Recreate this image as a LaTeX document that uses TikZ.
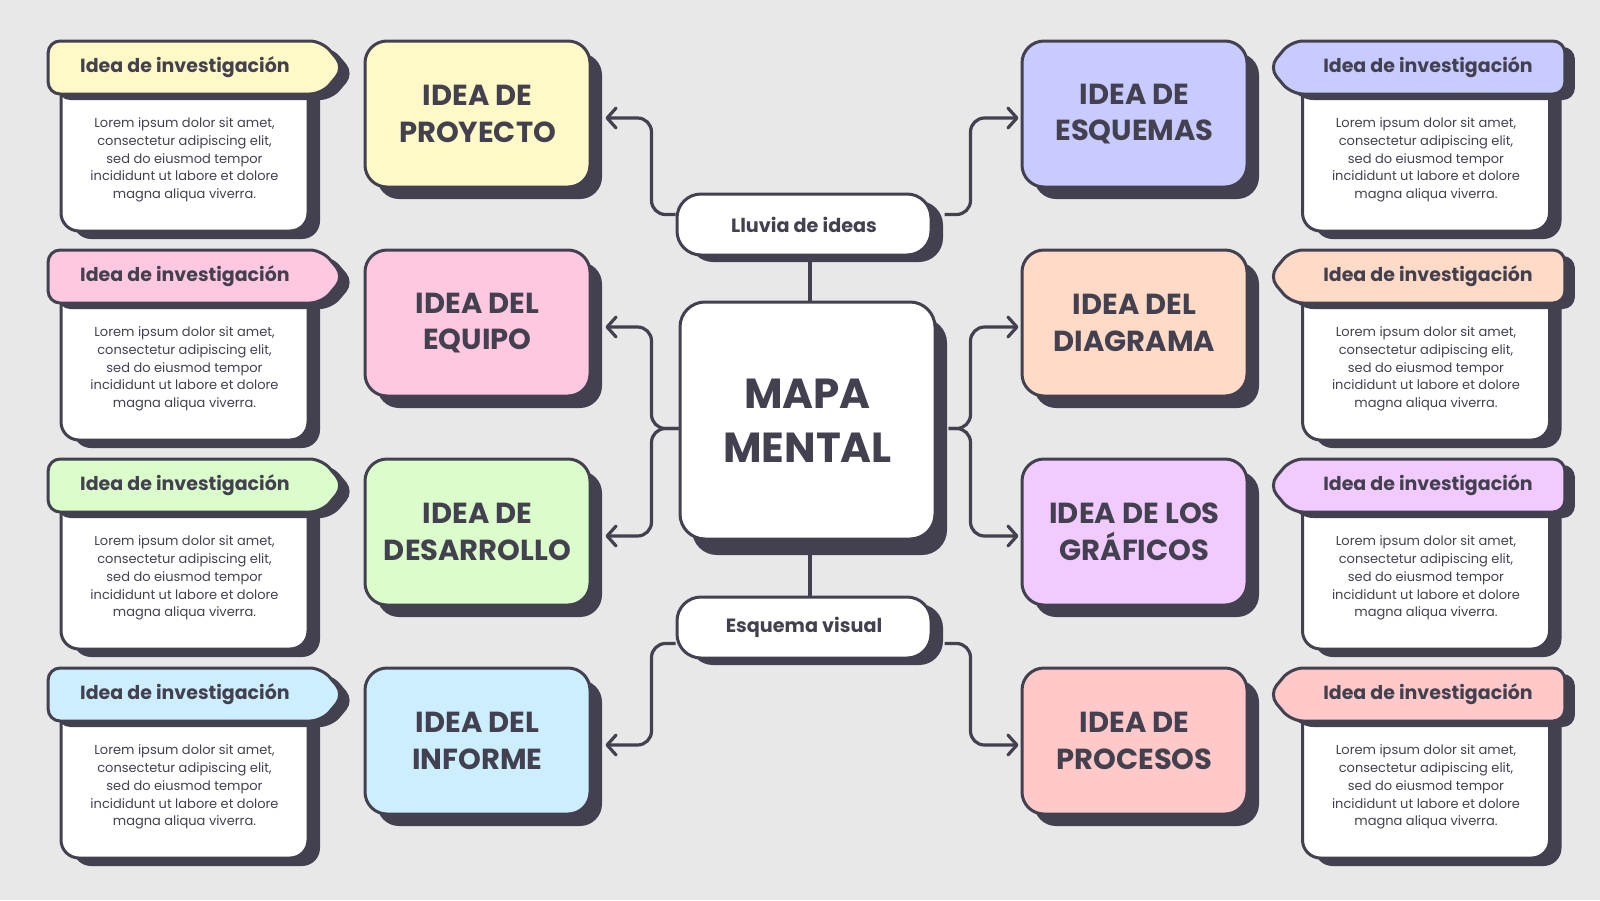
\documentclass[tikz,border=0pt]{standalone}
\usepackage{fontspec}
\setmainfont{Poppins}
\usetikzlibrary{arrows.meta,shapes.symbols,shadows}
\definecolor{ink}{HTML}{43414F}
\definecolor{paper}{HTML}{E8E8E8}
\definecolor{cyellow}{HTML}{FFF8C7}
\definecolor{cpink}{HTML}{FFC8E1}
\definecolor{cgreen}{HTML}{DAFDCB}
\definecolor{cblue}{HTML}{CCEEFF}
\definecolor{clavender}{HTML}{C7CBFF}
\definecolor{cpeach}{HTML}{FFDAC7}
\definecolor{cviolet}{HTML}{F1CAFF}
\definecolor{csalmon}{HTML}{FFC9C9}
\newcommand{\loremtext}{Lorem ipsum dolor sit amet,\\consectetur adipiscing elit,\\sed do eiusmod tempor\\incididunt ut labore et dolore\\magna aliqua viverra.}
\tikzset{
  idea/.style={
    draw=ink,
    line width=1.5pt,
    rounded corners=11pt,
    align=center,
    minimum width=112.5pt,
    minimum height=73pt,
    text=ink,
    font=\fontsize{14.5}{18.4}\selectfont\bfseries,
    drop shadow={shadow xshift=6pt, shadow yshift=-6pt, fill=ink, opacity=1}
  },
  hub/.style={
    draw=ink,
    fill=white,
    line width=1.5pt,
    rounded corners=12.5pt,
    align=center,
    minimum width=127.5pt,
    minimum height=118.5pt,
    text=ink,
    font=\fontsize{21}{27}\selectfont\bfseries,
    drop shadow={shadow xshift=6pt, shadow yshift=-8pt, fill=ink, opacity=1}
  },
  pill/.style={
    draw=ink,
    fill=white,
    line width=1.5pt,
    rounded corners=12pt,
    minimum width=127pt,
    minimum height=30.5pt,
    text=ink,
    font=\fontsize{9.6}{11}\selectfont\bfseries,
    drop shadow={shadow xshift=6pt, shadow yshift=-3.5pt, fill=ink, opacity=1}
  },
  tab/.style={
    draw=ink,
    line width=1.5pt,
    signal,
    signal pointer angle=100,
    rounded corners=6pt,
    inner sep=0pt,
    minimum width=148pt,
    minimum height=26.5pt,
    text=ink,
    font=\fontsize{9.5}{11}\selectfont\bfseries,
    drop shadow={shadow xshift=5pt, shadow yshift=-3pt, fill=ink, opacity=1}
  },
  body/.style={
    draw=ink,
    fill=white,
    line width=1.5pt,
    rounded corners=9pt,
    minimum width=123.5pt,
    minimum height=85.5pt,
    drop shadow={shadow xshift=6pt, shadow yshift=-4pt, fill=ink, opacity=1}
  },
  lorem/.style={
    align=center,
    inner sep=0pt,
    text=ink,
    font=\fontsize{6.5}{8.9}\selectfont
  },
  link/.style={-{Straight Barb[length=4.5pt,width=10pt,round]}, draw=ink, line width=1.6pt, rounded corners=7pt},
  wire/.style={draw=ink, line width=1.6pt}
}

\begin{document}
\begin{tikzpicture}[x=0.5pt, y=-0.5pt]

\fill[paper] (0,0) rectangle (1600,900);
\useasboundingbox (0,0) rectangle (1600,900);

% center
\node[hub] (mapa) at (807.5,420.5) {MAPA\\MENTAL};
\node[pill] (lluvia) at (804,224.5) {Lluvia de ideas};
\node[pill] (esquema) at (804,627.5) {Esquema visual};

% left ideas
\node[idea, fill=cyellow] (proyecto) at (477.5,114) {IDEA DE\\PROYECTO};
\node[idea, fill=cpink] (equipo) at (477.5,323) {IDEA DEL\\EQUIPO};
\node[idea, fill=cgreen] (desarrollo) at (477.5,532) {IDEA DE\\DESARROLLO};
\node[idea, fill=cblue] (informe) at (477.5,741) {IDEA DEL\\INFORME};

% right ideas
\node[idea, fill=clavender] (esquemas) at (1134.5,114) {IDEA DE\\ESQUEMAS};
\node[idea, fill=cpeach] (diagrama) at (1134.5,323) {IDEA DEL\\DIAGRAMA};
\node[idea, fill=cviolet] (graficos) at (1134.5,532) {IDEA DE LOS\\GRÁFICOS};
\node[idea, fill=csalmon] (procesos) at (1134.5,741) {IDEA DE\\PROCESOS};

% left notes
\node[body] (lb1) at (184.5,145.5) {};
\node[lorem] (lt1) at (184.5,160) {\loremtext};
\node[tab, signal to=east, fill=cyellow] (ltab1) at (185,67.5) {Idea de investigación};
\node[body] (lb2) at (184.5,354.5) {};
\node[lorem] (lt2) at (184.5,369) {\loremtext};
\node[tab, signal to=east, fill=cpink] (ltab2) at (185,276.5) {Idea de investigación};
\node[body] (lb3) at (184.5,563.5) {};
\node[lorem] (lt3) at (184.5,578) {\loremtext};
\node[tab, signal to=east, fill=cgreen] (ltab3) at (185,485.5) {Idea de investigación};
\node[body] (lb4) at (184.5,772.5) {};
\node[lorem] (lt4) at (184.5,787) {\loremtext};
\node[tab, signal to=east, fill=cblue] (ltab4) at (185,694.5) {Idea de investigación};

% right notes
\node[body] (rb1) at (1426,145.5) {};
\node[lorem] (rt1) at (1426,160) {\loremtext};
\node[tab, signal to=west, fill=clavender] (rtab1) at (1428,67.5) {Idea de investigación};
\node[body] (rb2) at (1426,354.5) {};
\node[lorem] (rt2) at (1426,369) {\loremtext};
\node[tab, signal to=west, fill=cpeach] (rtab2) at (1428,276.5) {Idea de investigación};
\node[body] (rb3) at (1426,563.5) {};
\node[lorem] (rt3) at (1426,578) {\loremtext};
\node[tab, signal to=west, fill=cviolet] (rtab3) at (1428,485.5) {Idea de investigación};
\node[body] (rb4) at (1426,772.5) {};
\node[lorem] (rt4) at (1426,787) {\loremtext};
\node[tab, signal to=west, fill=csalmon] (rtab4) at (1428,694.5) {Idea de investigación};

% connections
\draw[wire] ([xshift=3pt]lluvia.south) -- ([xshift=3pt]lluvia.south |- mapa.north);
\draw[wire] ([xshift=3pt]esquema.north) -- ([xshift=3pt]esquema.north |- mapa.south);

\draw[link] ([yshift=5pt]lluvia.west) -- ++(-24,0) |- ([xshift=7pt,yshift=-2pt]proyecto.east);
\draw[link] ([xshift=6pt,yshift=5pt]lluvia.east) -- ++(26,0) |- ([xshift=-1pt,yshift=-2pt]esquemas.west);

\draw[link] ([yshift=-4pt]mapa.west) -- ++(-27,0) |- ([xshift=7pt,yshift=-2pt]equipo.east);
\draw[link] ([yshift=-4pt]mapa.west) -- ++(-27,0) |- ([xshift=7pt,yshift=-2pt]desarrollo.east);
\draw[link] ([xshift=6pt,yshift=-4pt]mapa.east) -- ++(22,0) |- ([xshift=-1pt,yshift=-2pt]diagrama.west);
\draw[link] ([xshift=6pt,yshift=-4pt]mapa.east) -- ++(22,0) |- ([xshift=-1pt,yshift=-2pt]graficos.west);

\draw[link] ([yshift=-8pt]esquema.west) -- ++(-24,0) |- ([xshift=7pt,yshift=-2pt]informe.east);
\draw[link] ([xshift=6pt,yshift=-8pt]esquema.east) -- ++(26,0) |- ([xshift=-1pt,yshift=-2pt]procesos.west);

\end{tikzpicture}
\end{document}
